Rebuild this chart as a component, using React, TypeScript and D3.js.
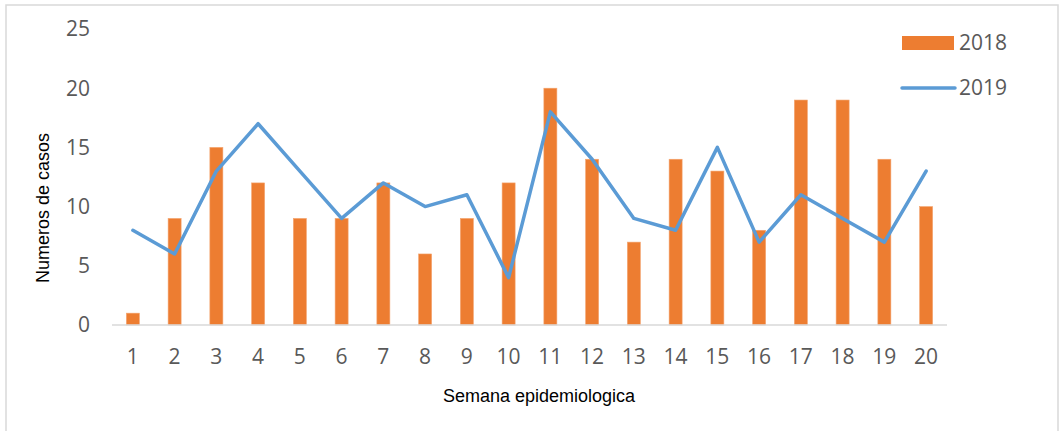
import React from "react";
import * as d3 from "d3";

const weeks = ["1","2","3","4","5","6","7","8","9","10","11","12","13","14","15","16","17","18","19","20"];
const cases2018 = [1, 9, 15, 12, 9, 9, 12, 6, 9, 12, 20, 14, 7, 14, 13, 8, 19, 19, 14, 10];
const cases2019 = [8, 6, 13, 17, 13, 9, 12, 10, 11, 4, 18, 14, 9, 8, 15, 7, 11, 9, 7, 13];
const yTicks = [0, 5, 10, 15, 20, 25];
const seriesNames = ["2018", "2019"];

const W = 1060, H = 431;
const left = 112, right = 947, top = 29, bottom = 325;

export default function App() {
  const x = d3.scaleBand<string>().domain(weeks).range([left, right]);
  const y = d3.scaleLinear().domain([0, 25]).range([bottom, top]);
  const barW = 13;
  const line = d3.line<number>()
    .x((_, i) => (x(weeks[i]) as number) + x.bandwidth() / 2)
    .y((d) => y(d));
  const tickFont = "'Open Sans', 'DejaVu Sans', sans-serif";
  const titleFont = "'Liberation Sans', Arial, sans-serif";
  return (
    <svg width={W} height={H} style={{ position: "absolute", left: 0, top: 0, background: "#fff" }}>
      <rect x={6} y={5} width={1052} height={440} fill="#fff" stroke="#D9D9D9" strokeWidth={1.5} />
      {cases2018.map((v, i) => (
        <rect key={i} x={(x(weeks[i]) as number) + x.bandwidth() / 2 - barW / 2} y={y(v)} width={barW} height={y(0) - y(v)}
          fill="#ED7D31" stroke="#F4A46E" strokeWidth={0.6} />
      ))}
      <line x1={left} x2={right} y1={y(0)} y2={y(0)} stroke="#D9D9D9" strokeWidth={1.5} />
      <path d={line(cases2019) || ""} fill="none" stroke="#5B9BD5" strokeWidth={3.5} strokeLinejoin="round" strokeLinecap="round" />
      {yTicks.map((t) => (
        <text key={t} x={90} y={y(t)} dy="0.35em" textAnchor="end" fontFamily={tickFont} fontSize={21} fill="#595959">{t}</text>
      ))}
      {weeks.map((w) => (
        <text key={w} x={(x(w) as number) + x.bandwidth() / 2} y={357} dy="0.35em" textAnchor="middle" fontFamily={tickFont} fontSize={21} fill="#595959">{w}</text>
      ))}
      <text transform={`translate(49,${208}) rotate(-90)`} textAnchor="middle" fontFamily={titleFont} fontSize={18} fill="#000">Numeros de casos</text>
      <text x={539} y={402} textAnchor="middle" fontFamily={titleFont} fontSize={18} fill="#000">Semana epidemiologica</text>
      <rect x={902} y={36} width={52} height={14} fill="#ED7D31" />
      <text x={959} y={43} dy="0.35em" fontFamily={tickFont} fontSize={21} fill="#595959">{seriesNames[0]}</text>
      <line x1={902} x2={955} y1={88} y2={88} stroke="#5B9BD5" strokeWidth={3.5} strokeLinecap="round" />
      <text x={959} y={88} dy="0.35em" fontFamily={tickFont} fontSize={21} fill="#595959">{seriesNames[1]}</text>
    </svg>
  );
}
